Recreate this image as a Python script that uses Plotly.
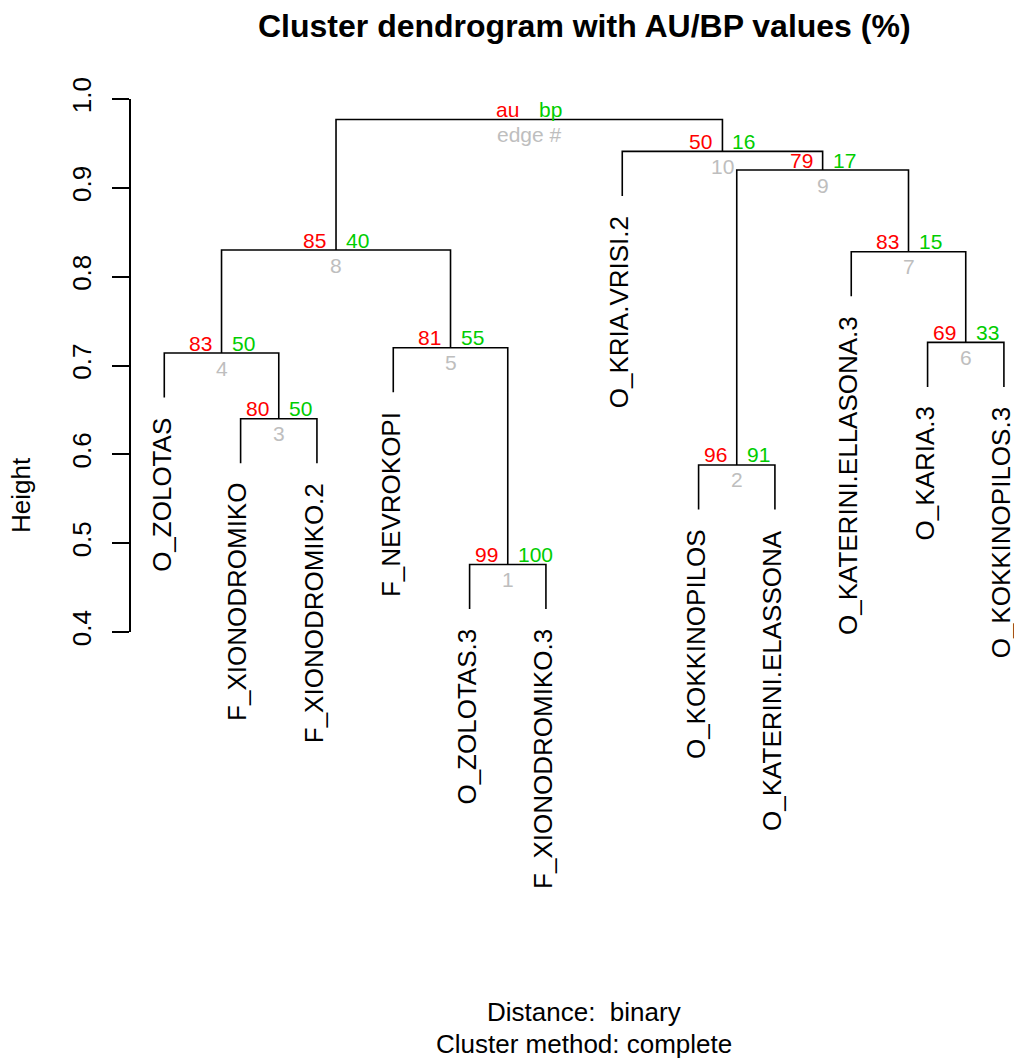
import plotly.graph_objects as go

# ---- data ----
labels = ["O_ZOLOTAS", "F_XIONODROMIKO", "F_XIONODROMIKO.2", "F_NEVROKOPI",
          "O_ZOLOTAS.3", "F_XIONODROMIKO.3", "O_KRIA.VRISI.2", "O_KOKKINOPILOS",
          "O_KATERINI.ELASSONA", "O_KATERINI.ELLASONA.3", "O_KARIA.3", "O_KOKKINOPILOS.3"]
# merge structure (R hclust convention: negative = leaf position, positive = merge index)
merge_left = [-5, -8, -2, -1, -4, -11, -10, 4, 2, -7, 8]
merge_right = [-6, -9, -3, 3, 1, -12, 6, 5, 7, 9, 10]
heights = [0.476, 0.588, 0.640, 0.714, 0.720, 0.726, 0.828, 0.830, 0.920, 0.941, 0.977]
au_values = [99, 96, 80, 83, 81, 69, 83, 85, 79, 50]
bp_values = [100, 91, 50, 50, 55, 33, 15, 40, 17, 16]
edge_numbers = [1, 2, 3, 4, 5, 6, 7, 8, 9, 10]
y_ticks = [0.4, 0.5, 0.6, 0.7, 0.8, 0.9, 1.0]

AU_COL = "#FF0000"
BP_COL = "#00CD00"
ED_COL = "#BEBEBE"
FONT = "Liberation Sans, Arial, sans-serif"

# ---- layout geometry ----
W, H = 1014, 1059
ML, MR, MT, MB = 131, 0, 99, 427
PW = W - ML - MR
PH = H - MT - MB
x_lo = 0.564
x_hi = x_lo + PW / 76.33


def px_x(p):
    return (p - ML) / PW


def px_y(p):
    return (H - MB - p) / PH


hang = 0.1 * (max(heights) - min(heights))

node_x = {}
leaf_end = {}
for k, (a, b) in enumerate(zip(merge_left, merge_right), start=1):
    h = heights[k - 1]
    for c in (a, b):
        if c < 0:
            leaf_end[-c] = h - hang
    def cx(c):
        return -c if c < 0 else node_x[c]
    node_x[k] = (cx(a) + cx(b)) / 2

xs, ys = [], []
for k, (a, b) in enumerate(zip(merge_left, merge_right), start=1):
    h = heights[k - 1]
    pts = []
    for c in (a, b):
        if c < 0:
            pts.append((-c, leaf_end[-c]))
        else:
            pts.append((node_x[c], heights[c - 1]))
    (x1, y1), (x2, y2) = pts
    xs += [x1, x1, x2, x2, None]
    ys += [y1, h, h, y2, None]

fig = go.Figure()
fig.add_trace(go.Scatter(x=xs, y=ys, mode="lines",
                         line=dict(color="black", width=1.6),
                         hoverinfo="skip", showlegend=False))

ann = []
# leaf labels
for i, lab in enumerate(labels, start=1):
    ann.append(dict(x=i, y=leaf_end[i], xref="x", yref="y", text=lab,
                    textangle=-90, showarrow=False, xanchor="center",
                    yanchor="top", yshift=-18, xshift=-3,
                    font=dict(family=FONT, size=26, color="black")))

# au / bp / edge numbers
n = len(heights)
for k in range(1, n + 1):
    x = node_x[k]
    h = heights[k - 1]
    if k < n:
        t_au, t_bp, t_ed = str(au_values[k - 1]), str(bp_values[k - 1]), str(edge_numbers[k - 1])
    else:
        t_au, t_bp, t_ed = "au", "bp", "edge #"
    ann.append(dict(x=x, y=h, xref="x", yref="y", text=t_au, showarrow=False,
                    xanchor="right", yanchor="middle", xshift=-8, yshift=10,
                    font=dict(family=FONT, size=21, color=AU_COL)))
    ann.append(dict(x=x, y=h, xref="x", yref="y", text=t_bp, showarrow=False,
                    xanchor="left", yanchor="middle", xshift=8, yshift=10,
                    font=dict(family=FONT, size=21, color=BP_COL)))
    ann.append(dict(x=x, y=h, xref="x", yref="y", text=t_ed, showarrow=False,
                    xanchor="center", yanchor="middle", yshift=-15,
                    font=dict(family=FONT, size=21, color=ED_COL)))

# title, subtitle, y label
ann.append(dict(x=px_x(584), y=px_y(26), xref="paper", yref="paper",
                text="<b>Cluster dendrogram with AU/BP values (%)</b>", showarrow=False,
                xanchor="center", yanchor="middle",
                font=dict(family=FONT, size=32, color="black")))
ann.append(dict(x=px_x(584), y=px_y(1012), xref="paper", yref="paper",
                text="Distance:\u00a0 binary", showarrow=False,
                xanchor="center", yanchor="middle",
                font=dict(family=FONT, size=26, color="black")))
ann.append(dict(x=px_x(584), y=px_y(1044), xref="paper", yref="paper",
                text="Cluster method: complete", showarrow=False,
                xanchor="center", yanchor="middle",
                font=dict(family=FONT, size=26, color="black")))
ann.append(dict(x=px_x(21), y=px_y(495), xref="paper", yref="paper",
                text="Height", showarrow=False, textangle=-90,
                xanchor="center", yanchor="middle",
                font=dict(family=FONT, size=26, color="black")))

fig.update_layout(
    width=W, height=H, autosize=False,
    margin=dict(l=ML, r=MR, t=MT, b=MB, pad=0),
    paper_bgcolor="white", plot_bgcolor="white",
    annotations=ann, showlegend=False,
    xaxis=dict(range=[x_lo, x_hi], visible=False, showgrid=False, zeroline=False),
    yaxis=dict(range=[0.4, 1.0], tickvals=y_ticks,
               ticktext=[f"{v:.1f}" for v in y_ticks],
               showline=True, linecolor="black", linewidth=1.6,
               ticks="outside", ticklen=17, tickwidth=1.6, tickcolor="black",
               tickangle=-90, ticklabelstandoff=11,
               tickfont=dict(family=FONT, size=26, color="black"),
               showgrid=False, zeroline=False),
)

fig.write_html("out.html", config={"displayModeBar": False},
               post_script="document.body.style.margin='0';document.body.style.overflow='hidden';")
